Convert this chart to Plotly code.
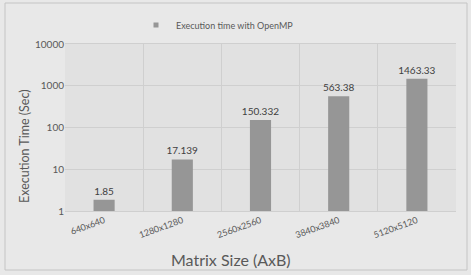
import plotly.graph_objects as go

categories = ["640x640", "1280x1280", "2560x2560", "3840x3840", "5120x5120"]
exec_time = [1.85, 17.139, 150.332, 563.38, 1463.33]
value_labels = ["1.85", "17.139", "150.332", "563.38", "1463.33"]
y_tick_vals = [1, 10, 100, 1000, 10000]
y_tick_text = ["1", "10", "100", "1000", "10000"]
series_name = "Execution time with OpenMP"
x_title = "Matrix Size (AxB)"
y_title = "Execution Time (Sec)"

FONT = "Lato"
BAR = "#969696"
W, H = 471, 275
L, R, T, B = 65, 15, 44, 64
pw, ph = W - L - R, H - T - B

def px_x(p):
    return (p - L) / pw

def px_y(p):
    return (H - B - p) / ph

fig = go.Figure()
fig.add_trace(go.Bar(
    x=categories, y=exec_time, name=series_name, showlegend=False,
    marker=dict(color=BAR, line=dict(width=0)),
    width=0.27,
    text=value_labels, textposition="outside", constraintext="none",
    textfont=dict(family=FONT, size=10, color="#404040"),
    cliponaxis=False,
))
# legend entry with a small square key
fig.add_trace(go.Scatter(
    x=[None], y=[None], mode="markers", name=series_name,
    marker=dict(symbol="square", size=5, color=BAR),
))

fig.update_layout(
    width=W, height=H,
    margin=dict(l=L, r=R, t=T, b=B, autoexpand=False),
    paper_bgcolor="#e8e8e8",
    plot_bgcolor="#e1e1e1",
    showlegend=True,
    legend=dict(orientation="h", x=px_x(136), xanchor="left", y=px_y(25), yanchor="middle",
                font=dict(family=FONT, size=9, color="#595959"),
                itemwidth=30, bgcolor="rgba(0,0,0,0)"),
    font=dict(family=FONT, color="#595959"),
    xaxis=dict(
        type="category", tickson="boundaries", showgrid=True, gridcolor="#cfcfcf", gridwidth=1,
        ticks="", tickangle=-20, tickfont=dict(family=FONT, size=9, color="#595959"),
        showline=True, linecolor="#cfcfcf", linewidth=1, mirror=True,
    ),
    yaxis=dict(
        type="log", range=[0, 4], tickvals=y_tick_vals, ticktext=y_tick_text,
        showgrid=True, gridcolor="#cfcfcf", gridwidth=1, ticks="",
        tickfont=dict(family=FONT, size=10, color="#595959"),
        zeroline=False, showline=False,
    ),
)

fig.add_annotation(text=x_title, xref="paper", yref="paper", x=px_x(231), y=px_y(259),
                   showarrow=False, xanchor="center", yanchor="middle",
                   font=dict(family=FONT, size=16, color="#595959"))
fig.add_annotation(text=y_title, xref="paper", yref="paper", x=px_x(24), y=px_y(146),
                   showarrow=False, textangle=-90, xanchor="center", yanchor="middle",
                   font=dict(family=FONT, size=12.5, color="#595959"))

fig.add_shape(type="rect", xref="paper", yref="paper",
              x0=px_x(5), x1=px_x(467), y0=px_y(270), y1=px_y(3),
              line=dict(color="#c4c4c4", width=1), layer="below")

fig.write_html("out.html", config={"displayModeBar": False},
               post_script="document.body.style.margin='0';")
